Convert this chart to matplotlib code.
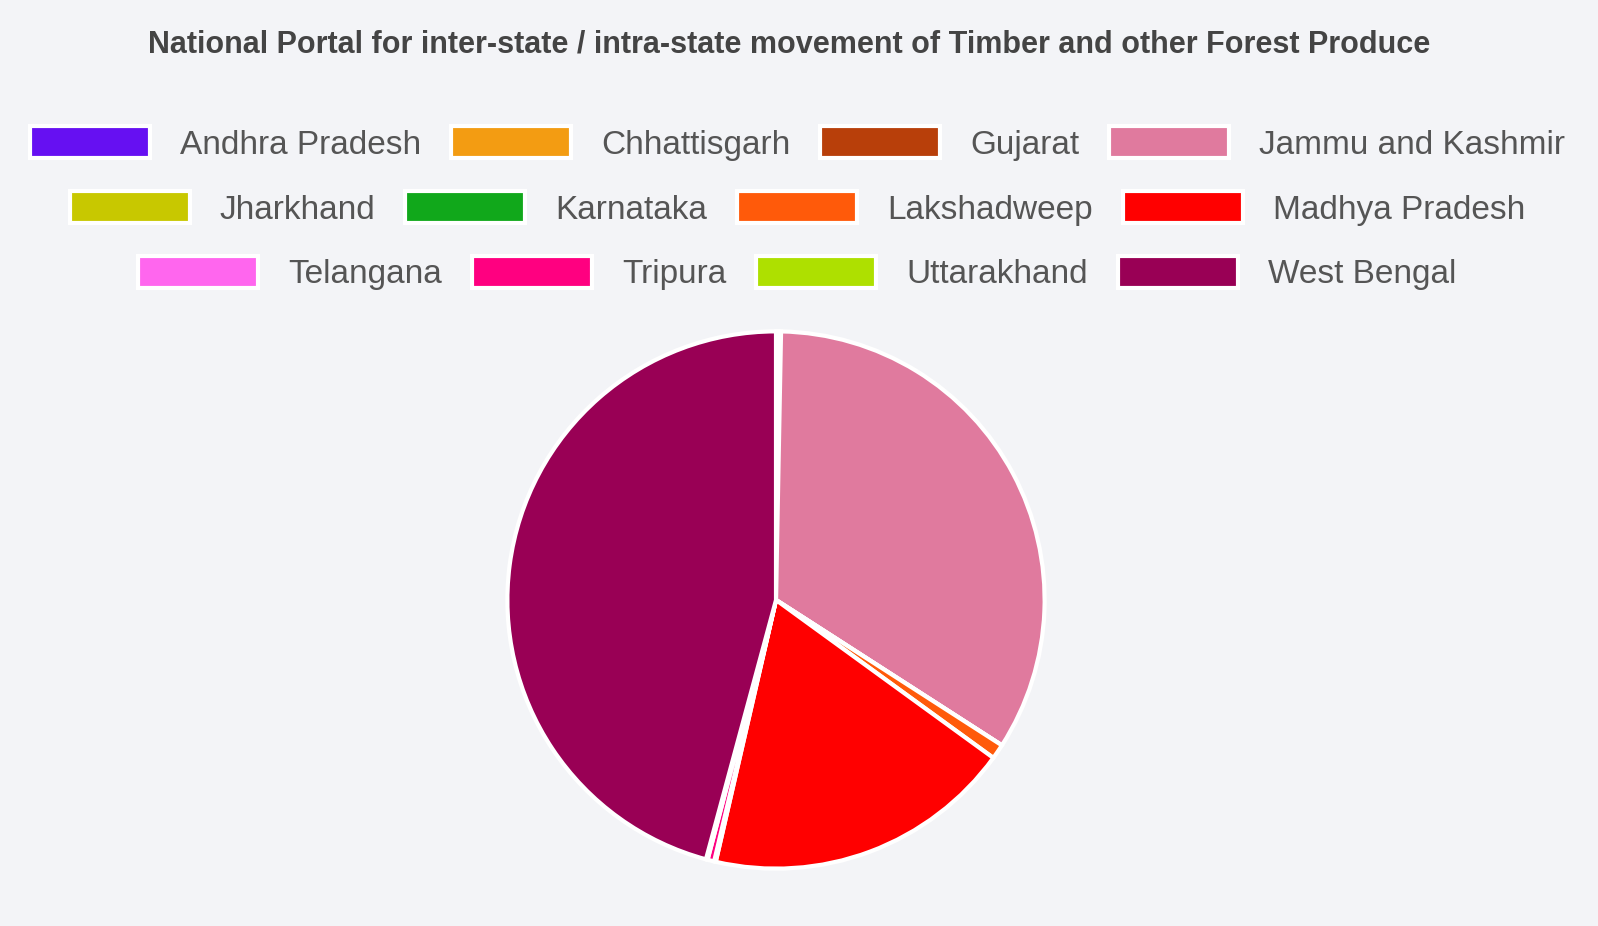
import matplotlib
matplotlib.use("Agg")
import matplotlib.pyplot as plt
from matplotlib.patches import Patch

states = ["Andhra Pradesh","Chhattisgarh","Gujarat","Jammu and Kashmir","Jharkhand","Karnataka",
          "Lakshadweep","Madhya Pradesh","Telangana","Tripura","Uttarakhand","West Bengal"]
values = [0.1,0.1,0.1,33.8,0.0,0.0,0.9,18.6,0.1,0.4,0.1,45.8]
colors = ["#6610f2","#f39c12","#b83f0a","#e07a9e","#c8c800","#11a81b","#ff5a0a","#ff0000",
          "#ff66ee","#ff0080","#aee000","#990055"]

fig = plt.figure(figsize=(15.98,9.26), dpi=100, facecolor="#f3f4f7")
fig.text(0.494,0.952,"National Portal for inter-state / intra-state movement of Timber and other Forest Produce",
         ha="center",va="center",fontsize=22,color="#444444",fontweight="bold",family="Liberation Sans")
ax = fig.add_axes([502/1598, 52/926, 548/1598, 548/926])
ax.pie(values, colors=colors, startangle=90, counterclock=False,
       wedgeprops=dict(edgecolor="white", linewidth=3))
ax.set_xlim(-1.02,1.02); ax.set_ylim(-1.02,1.02)
ax.set_aspect("equal")

handles = [Patch(facecolor=c, edgecolor="white", linewidth=3) for c in colors]
rows = [states[0:4], states[4:8], states[8:12]]
ys = [0.845, 0.775, 0.705]
for r,(row,y) in enumerate(zip(rows,ys)):
    h = handles[r*4:(r+1)*4]
    fig.legend(h,row,loc="center",bbox_to_anchor=(0.499,y),ncol=4,frameon=False,
               handlelength=3.6,handleheight=1.1,columnspacing=0.9,handletextpad=0.9,
               labelcolor="#555555",prop=dict(family="Liberation Sans",size=24))
fig.savefig("out.png", dpi=100, facecolor=fig.get_facecolor())
